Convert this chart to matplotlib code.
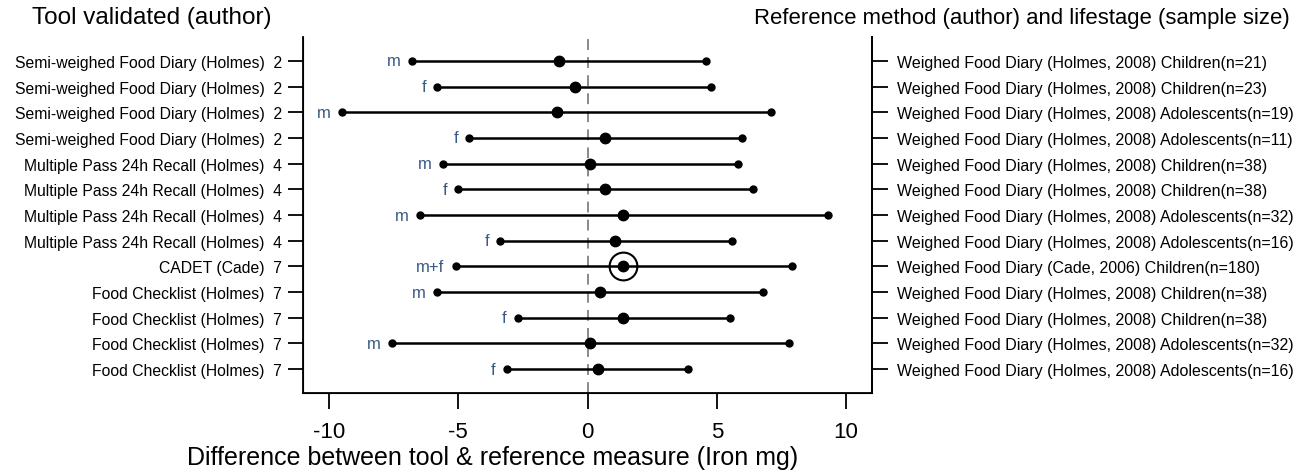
import matplotlib.pyplot as plt

# rows from top to bottom
tools = ["Semi-weighed Food Diary (Holmes)  2"] * 4 + \
        ["Multiple Pass 24h Recall (Holmes)  4"] * 4 + \
        ["CADET (Cade)  7"] + \
        ["Food Checklist (Holmes)  7"] * 4

refs = [
    "Weighed Food Diary (Holmes, 2008) Children(n=21)",
    "Weighed Food Diary (Holmes, 2008) Children(n=23)",
    "Weighed Food Diary (Holmes, 2008) Adolescents(n=19)",
    "Weighed Food Diary (Holmes, 2008) Adolescents(n=11)",
    "Weighed Food Diary (Holmes, 2008) Children(n=38)",
    "Weighed Food Diary (Holmes, 2008) Children(n=38)",
    "Weighed Food Diary (Holmes, 2008) Adolescents(n=32)",
    "Weighed Food Diary (Holmes, 2008) Adolescents(n=16)",
    "Weighed Food Diary (Cade, 2006) Children(n=180)",
    "Weighed Food Diary (Holmes, 2008) Children(n=38)",
    "Weighed Food Diary (Holmes, 2008) Children(n=38)",
    "Weighed Food Diary (Holmes, 2008) Adolescents(n=32)",
    "Weighed Food Diary (Holmes, 2008) Adolescents(n=16)",
]

sex = ["m", "f", "m", "f", "m", "f", "m", "f", "m+f", "m", "f", "m", "f"]

mean = [-1.10, -0.48, -1.20, 0.67, 0.08, 0.67, 1.39, 1.07, 1.39, 0.50, 1.39, 0.08, 0.40]
lower = [-6.78, -5.81, -9.49, -4.57, -5.58, -4.99, -6.47, -3.38, -5.10, -5.81, -2.69, -7.57, -3.13]
upper = [4.59, 4.79, 7.11, 5.99, 5.80, 6.39, 9.30, 5.59, 7.89, 6.79, 5.50, 7.78, 3.90]

highlight = "CADET (Cade)  7"

plt.rcParams['font.family'] = ['Liberation Sans', 'DejaVu Sans']

fig = plt.figure(figsize=(12.99, 4.77), dpi=100)
ax = fig.add_axes([0.2333, 0.174, 0.438, 0.7463])

n = len(tools)
ypos = list(range(n, 0, -1))

ax.axvline(0, color='#808080', lw=1.3, ls=(0, (6, 4)), zorder=1)

for i in range(n):
    y = ypos[i]
    ax.plot([lower[i], upper[i]], [y, y], color='black', lw=1.8, zorder=2)
    ax.plot([lower[i], upper[i]], [y, y], 'o', color='black', ms=5, zorder=3)
    ax.plot(mean[i], y, 'o', color='black', ms=7.5, zorder=4)
    if tools[i] == highlight:
        ax.plot(mean[i], y, 'o', mfc='none', mec='black', mew=1.5, ms=20, zorder=4)
    ax.annotate(sex[i], (lower[i], y), xytext=(-8, 0), textcoords='offset points',
                ha='right', va='center', color='#3a5a85', fontsize=12)

ax.set_xlim(-11, 11)
ax.set_ylim(0.07, n + 0.93)
ax.set_xticks([-10, -5, 0, 5, 10])
ax.set_xticklabels(["-10", "-5", "0", "5", "10"], fontsize=16)
ax.set_yticks(ypos)
ax.set_yticklabels(tools, fontsize=11.3)
ax.tick_params(axis='x', length=11.5, width=1.3, pad=9)
ax.tick_params(axis='y', length=11, width=1.3, pad=4.3)

ax.spines['top'].set_visible(False)
for s in ['left', 'right', 'bottom']:
    ax.spines[s].set_linewidth(1.3)

ax2 = ax.twinx()
ax2.set_ylim(ax.get_ylim())
ax2.set_yticks(ypos)
ax2.set_yticklabels(refs, fontsize=11.5)
ax2.tick_params(axis='y', length=11.5, width=1.3, pad=6.5)
ax2.spines['top'].set_visible(False)
ax2.spines['right'].set_linewidth(1.3)

fig.text(0.379, 0.039, "Difference between tool & reference measure (Iron mg)",
         ha='center', va='center', fontsize=18)
fig.text(0.117, 0.962, "Tool validated (author)", ha='center', va='center', fontsize=17.5)
fig.text(0.993, 0.962, "Reference method (author) and lifestage (sample size)",
         ha='right', va='center', fontsize=15.9)

plt.savefig("out.png", dpi=100)
